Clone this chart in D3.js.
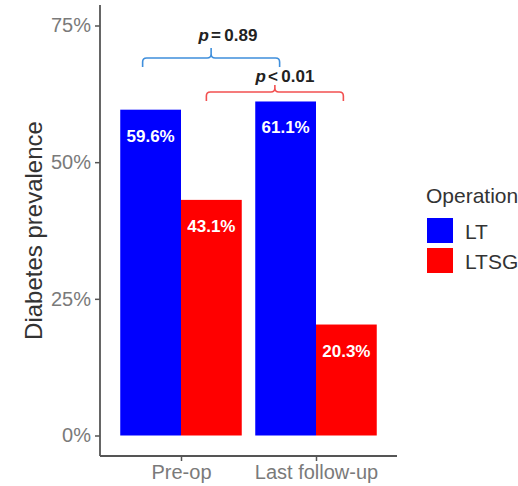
<!DOCTYPE html>
<html><head><meta charset="utf-8">
<script src="https://cdn.jsdelivr.net/npm/d3@7"></script>
<style>body{margin:0;background:#fff;} text{font-family:"Liberation Sans",Arial,sans-serif;}</style>
</head><body>
<svg id="c" width="518" height="486"></svg>
<script>
const categories = ["Pre-op", "Last follow-up"];
const series = ["LT", "LTSG"];
const ltValues = [0.596, 0.611];
const ltsgValues = [0.431, 0.203];
const yTicks = [0, 0.25, 0.5, 0.75];
const comparisons = [
  {label: "= 0.89", from: ["Pre-op","LT"], to: ["Last follow-up","LT"]},
  {label: "< 0.01", from: ["Pre-op","LTSG"], to: ["Last follow-up","LTSG"]}
];
const colors = {LT: "#0000ff", LTSG: "#ff0000"};

const svg = d3.select("#c");
const L = 100, R = 397, T = 5, B = 456;
// ggplot discrete expansion: 0.6 units each side
const unit = (R - L) / (categories.length - 1 + 1.2);
const xCenter = c => L + unit * (0.6 + categories.indexOf(c));
const sub = d3.scaleBand().domain(series).range([-0.45*unit, 0.45*unit]);
const y = d3.scaleLinear().domain([-0.0375, 0.7875]).range([B, T]);

const data = [];
categories.forEach((c,i)=>{
  data.push({cat:c, s:"LT", v:ltValues[i]});
  data.push({cat:c, s:"LTSG", v:ltsgValues[i]});
});

svg.selectAll("rect.bar").data(data).join("rect")
  .attr("x", d => xCenter(d.cat) + sub(d.s))
  .attr("width", sub.bandwidth())
  .attr("y", d => y(d.v))
  .attr("height", d => y(0) - y(d.v))
  .attr("fill", d => colors[d.s]);

svg.selectAll("text.bl").data(data).join("text")
  .attr("x", d => xCenter(d.cat) + sub(d.s) + sub.bandwidth()/2)
  .attr("y", d => y(d.v) + 32)
  .attr("text-anchor","middle")
  .attr("fill","#fff").attr("font-weight","bold").attr("font-size",17)
  .text(d => (d.v*100).toFixed(1) + "%");

const yAxis = d3.axisLeft(y).tickValues(yTicks).tickFormat(d3.format(".0%")).tickSize(5).tickPadding(4);
const gy = svg.append("g").attr("transform",`translate(${L},0)`).call(yAxis);
gy.select(".domain").attr("d", `M0,${T}V${B}`).attr("stroke","#555").attr("stroke-width",1.8);
gy.selectAll(".tick line").attr("stroke","#555").attr("stroke-width",1.5);
gy.selectAll(".tick text").attr("fill","#7a7a7a").attr("font-size",20).attr("font-family","Liberation Sans, Arial, sans-serif");

const xAxis = d3.axisBottom(d3.scalePoint().domain(categories).range([xCenter(categories[0]), xCenter(categories[1])])).tickSize(5).tickPadding(4);
const gx = svg.append("g").attr("transform",`translate(0,${B})`).call(xAxis);
gx.select(".domain").attr("d", `M${L},0H${R}`).attr("stroke","#555").attr("stroke-width",1.8);
gx.selectAll(".tick line").attr("stroke","#555").attr("stroke-width",1.5);
gx.selectAll(".tick text").attr("fill","#7a7a7a").attr("font-size",20).attr("font-family","Liberation Sans, Arial, sans-serif");

svg.append("text").attr("transform",`translate(42,${(T+B)/2}) rotate(-90)`)
  .attr("text-anchor","middle").attr("fill","#333").attr("font-size",24)
  .text("Diabetes prevalence");

const bracketCfg = [
  {color:"#3f8fdc", yH:58, tip:9, top:10, dx1:-8, dx2:-6, lx:228, ly:41},
  {color:"#f25050", yH:92, tip:9, top:7, dx1:-5, dx2:-3, lx:285, ly:82}
];
comparisons.forEach((cmp,i)=>{
  const cfg = bracketCfg[i];
  const x1 = xCenter(cmp.from[0]) + sub(cmp.from[1]) + sub.bandwidth()/2 + cfg.dx1;
  const x2 = xCenter(cmp.to[0]) + sub(cmp.to[1]) + sub.bandwidth()/2 + cfg.dx2;
  const xm = (x1+x2)/2;
  const r = 4;
  const p = d3.path();
  p.moveTo(x1, cfg.yH+cfg.tip);
  p.lineTo(x1, cfg.yH+r);
  p.quadraticCurveTo(x1, cfg.yH, x1+r, cfg.yH);
  p.lineTo(xm-r, cfg.yH);
  p.quadraticCurveTo(xm, cfg.yH, xm, cfg.yH-r);
  p.lineTo(xm, cfg.yH-cfg.top);
  p.moveTo(xm, cfg.yH-r);
  p.quadraticCurveTo(xm, cfg.yH, xm+r, cfg.yH);
  p.lineTo(x2-r, cfg.yH);
  p.quadraticCurveTo(x2, cfg.yH, x2, cfg.yH+r);
  p.lineTo(x2, cfg.yH+cfg.tip);
  svg.append("path").attr("d", p.toString()).attr("fill","none").attr("stroke",cfg.color).attr("stroke-width",1.6);
  const t = svg.append("text").attr("x", cfg.lx).attr("y", cfg.ly).attr("text-anchor","middle")
    .attr("font-weight","bold").attr("font-size",17).attr("fill","#222");
  t.append("tspan").attr("font-style","italic").text("p");
  t.append("tspan").attr("dx",2).text(cmp.label.replace(" ", "\u2009"));
});

const lg = svg.append("g");
lg.append("text").attr("x",426).attr("y",203).attr("font-size",21).attr("fill","#333").text("Operation");
series.forEach((s,i)=>{
  lg.append("rect").attr("x",427).attr("y",218+i*30).attr("width",26).attr("height",25).attr("fill",colors[s]);
  lg.append("text").attr("x",465).attr("y",239+i*30).attr("font-size",21).attr("fill","#333").text(s);
});
</script>
</body></html>
